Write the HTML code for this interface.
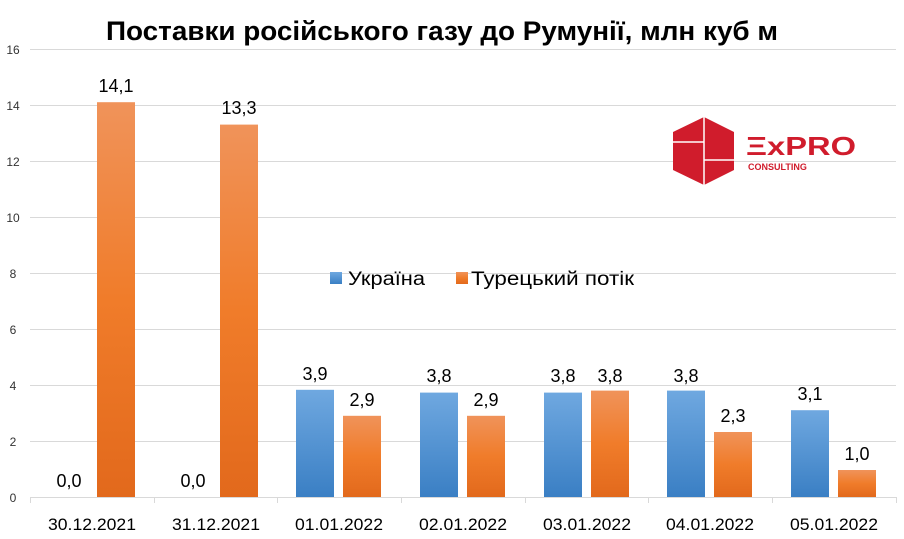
<!DOCTYPE html>
<html><head><meta charset="utf-8"><style>body{margin:0;background:#fff}svg{display:block}text{font-family:"Liberation Sans",sans-serif}</style></head><body>
<svg width="904" height="539" viewBox="0 0 904 539">
<defs>
<linearGradient id="b" x1="0" y1="0" x2="0" y2="1"><stop offset="0" stop-color="#6fa8e0"/><stop offset="1" stop-color="#3a7fc4"/></linearGradient>
<linearGradient id="o" x1="0" y1="0" x2="0" y2="1"><stop offset="0" stop-color="#f0935a"/><stop offset="0.5" stop-color="#f07c2a"/><stop offset="1" stop-color="#e2691c"/></linearGradient>
</defs>
<text x="106" y="40" font-size="27" font-weight="bold" fill="#000" textLength="672" lengthAdjust="spacingAndGlyphs">Поставки російського газу до Румунії, млн куб м</text>
<g stroke="#d9d9d9" stroke-width="1">
<line x1="30" x2="896" y1="49.5" y2="49.5"/><line x1="30" x2="896" y1="105.5" y2="105.5"/><line x1="30" x2="896" y1="161.5" y2="161.5"/><line x1="30" x2="896" y1="217.5" y2="217.5"/><line x1="30" x2="896" y1="273.5" y2="273.5"/><line x1="30" x2="896" y1="329.5" y2="329.5"/><line x1="30" x2="896" y1="385.5" y2="385.5"/><line x1="30" x2="896" y1="441.5" y2="441.5"/><line x1="30" x2="896" y1="497.5" y2="497.5"/>
<line x1="30.5" x2="30.5" y1="497" y2="503"/><line x1="154.5" x2="154.5" y1="497" y2="503"/><line x1="277.5" x2="277.5" y1="497" y2="503"/><line x1="401.5" x2="401.5" y1="497" y2="503"/><line x1="525.5" x2="525.5" y1="497" y2="503"/><line x1="648.5" x2="648.5" y1="497" y2="503"/><line x1="772.5" x2="772.5" y1="497" y2="503"/><line x1="896.5" x2="896.5" y1="497" y2="503"/>
</g>
<g font-size="12" fill="#333" text-anchor="middle">
<text x="13" y="54">16</text><text x="13" y="110">14</text><text x="13" y="166">12</text><text x="13" y="222">10</text><text x="13" y="278">8</text><text x="13" y="334">6</text><text x="13" y="390">4</text><text x="13" y="446">2</text><text x="13" y="502">0</text>
</g>
<g>
<rect x="97" y="102.2" width="38" height="394.8" fill="url(#o)"/>
<rect x="220" y="124.6" width="38" height="372.4" fill="url(#o)"/>
<rect x="296" y="389.8" width="38" height="107.2" fill="url(#b)"/><rect x="343" y="415.8" width="38" height="81.2" fill="url(#o)"/>
<rect x="420" y="392.6" width="38" height="104.4" fill="url(#b)"/><rect x="467" y="415.8" width="38" height="81.2" fill="url(#o)"/>
<rect x="544" y="392.6" width="38" height="104.4" fill="url(#b)"/><rect x="591" y="390.6" width="38" height="106.4" fill="url(#o)"/>
<rect x="667" y="390.6" width="38" height="106.4" fill="url(#b)"/><rect x="714" y="432" width="38" height="65" fill="url(#o)"/>
<rect x="791" y="410.2" width="38" height="86.8" fill="url(#b)"/><rect x="838" y="470" width="38" height="27" fill="url(#o)"/>
</g>
<g font-size="18" fill="#000" text-anchor="middle">
<text x="69" y="487">0,0</text><text x="116" y="92">14,1</text>
<text x="193" y="487">0,0</text><text x="239" y="114">13,3</text>
<text x="315" y="380">3,9</text><text x="362" y="406">2,9</text>
<text x="439" y="382">3,8</text><text x="486" y="406">2,9</text>
<text x="563" y="382">3,8</text><text x="610" y="382">3,8</text>
<text x="686" y="382">3,8</text><text x="733" y="422">2,3</text>
<text x="810" y="400">3,1</text><text x="857" y="460">1,0</text>
</g>
<g font-size="17" fill="#000">
<text x="48" y="530" textLength="88" lengthAdjust="spacingAndGlyphs">30.12.2021</text>
<text x="172" y="530" textLength="88" lengthAdjust="spacingAndGlyphs">31.12.2021</text>
<text x="295" y="530" textLength="88" lengthAdjust="spacingAndGlyphs">01.01.2022</text>
<text x="419" y="530" textLength="88" lengthAdjust="spacingAndGlyphs">02.01.2022</text>
<text x="543" y="530" textLength="88" lengthAdjust="spacingAndGlyphs">03.01.2022</text>
<text x="666" y="530" textLength="88" lengthAdjust="spacingAndGlyphs">04.01.2022</text>
<text x="790" y="530" textLength="88" lengthAdjust="spacingAndGlyphs">05.01.2022</text>
</g>
<rect x="330" y="272" width="12" height="12" fill="url(#b)"/>
<text x="348" y="285" font-size="19" fill="#000" textLength="77" lengthAdjust="spacingAndGlyphs">Україна</text>
<rect x="456" y="272" width="12" height="12" fill="url(#o)"/>
<text x="471" y="285" font-size="19" fill="#000" textLength="163" lengthAdjust="spacingAndGlyphs">Турецький потік</text>
<polygon points="704,117 734,132 734,170 704,185 673,170 673,132" fill="#d01c2c"/>
<line x1="704" y1="117" x2="704" y2="185" stroke="#fff" stroke-width="1.5"/>
<line x1="673" y1="142" x2="704" y2="142" stroke="#fff" stroke-width="1.5"/>
<line x1="704" y1="160" x2="734" y2="160" stroke="#fff" stroke-width="1.5"/>
<text x="746" y="155" font-size="26" fill="#d01c2c" font-weight="bold" textLength="110" lengthAdjust="spacingAndGlyphs">ΞxPRO</text>
<text x="748" y="170" font-size="9" fill="#d01c2c" font-weight="bold">CONSULTING</text>
</svg>
</body></html>
